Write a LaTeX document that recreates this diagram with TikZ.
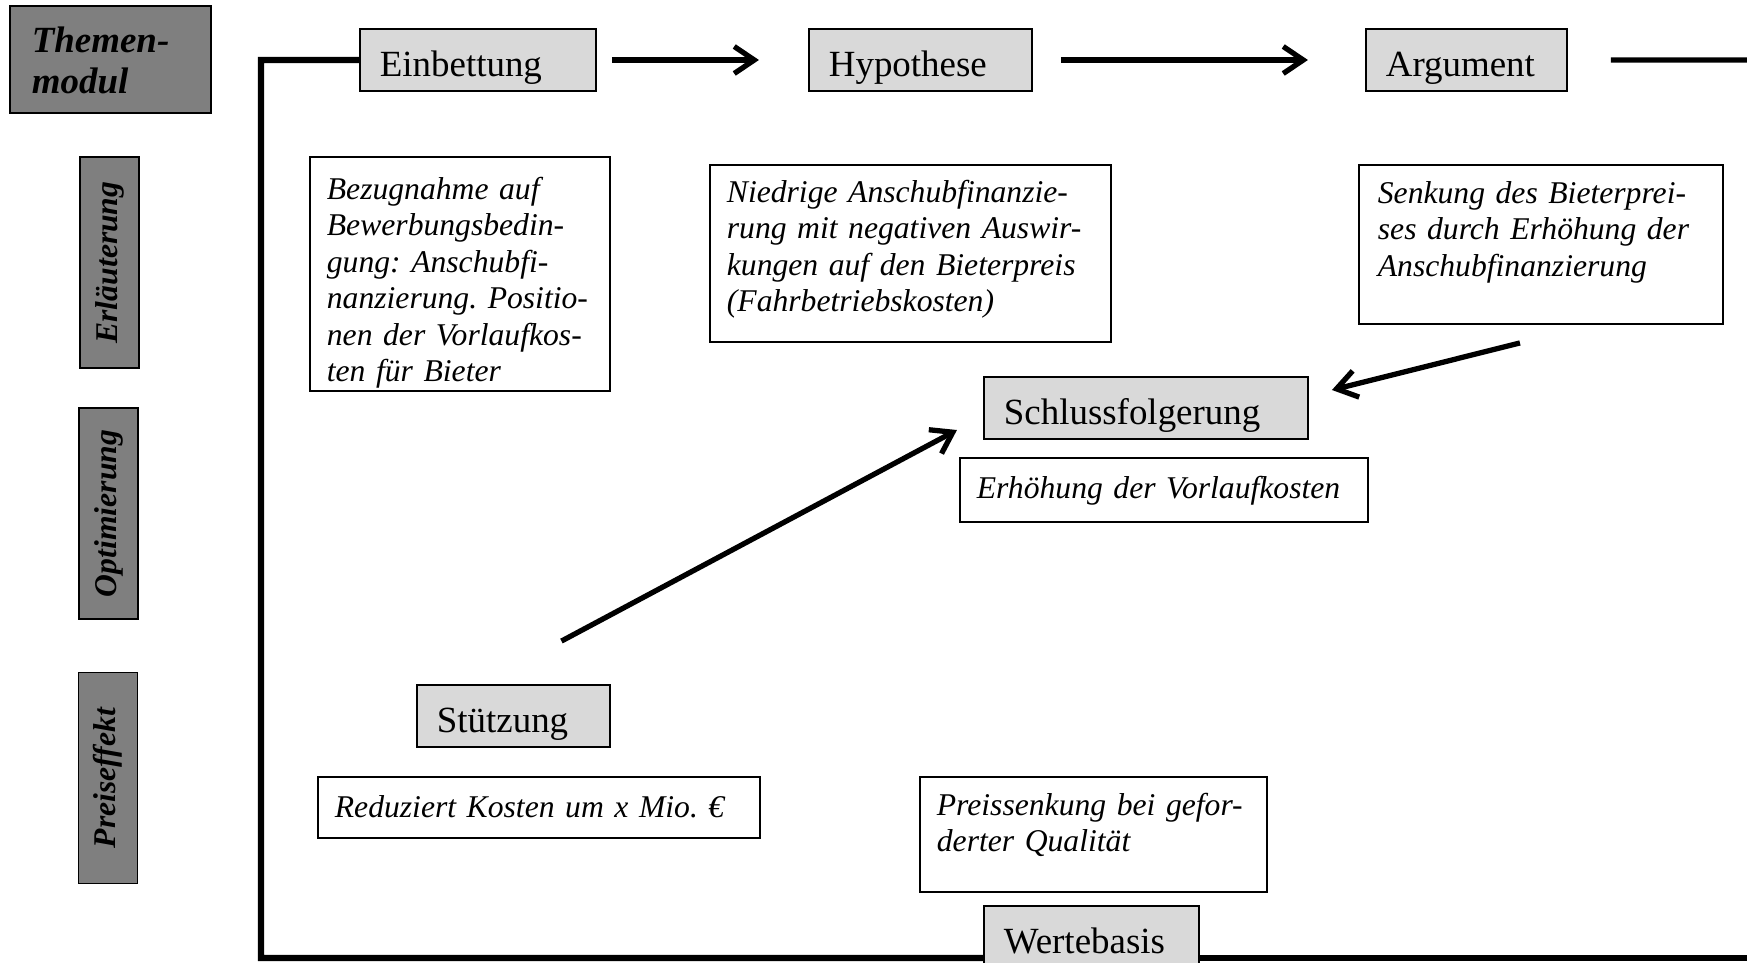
\documentclass[tikz,border=0pt]{standalone}
\usepackage{fontspec}
\setmainfont{Liberation Serif}
\usetikzlibrary{arrows.meta}
\definecolor{dunkelgrau}{RGB}{127,127,127}
\definecolor{hellgrau}{RGB}{217,217,217}

\begin{document}
\begin{tikzpicture}[x=0.01cm, y=-0.01cm,
    schritt/.style={draw, line width=0.5pt, fill=hellgrau, anchor=base west, align=left,
        inner xsep=0.2cm, inner ysep=0pt, text height=0.47cm, text depth=0.15cm,
        font=\fontsize{10.5}{12}\selectfont},
    erkl/.style={draw, line width=0.5pt, fill=white, anchor=base west, align=left,
        inner xsep=0.17cm, inner ysep=0pt, font=\fontsize{9}{10.4}\selectfont\itshape\frenchspacing},
    seite/.style={draw, line width=0.5pt, fill=dunkelgrau, rotate=90, inner sep=0pt,
        minimum width=2.11cm, minimum height=0.59cm,
        font=\fontsize{9}{11}\selectfont\bfseries\itshape},
    pfeil/.style={line width=1.5pt, -{Straight Barb[length=0.2cm,width=0.27cm]}},
    rahmen/.style={line width=1.8pt}]
    \useasboundingbox (0,0) rectangle (1747,963);
    % linke Spalte
    \node[draw, line width=0.5pt, fill=dunkelgrau, anchor=base west, align=left,
        inner xsep=0.22cm, inner ysep=0pt, text width=1.57cm, text height=0.46cm,
        text depth=0.61cm, font=\fontsize{10.5}{11.7}\selectfont\bfseries\itshape]
        (tm) at (9,52) {Themen-\\modul};
    \node[seite] (erl) at (109.5,262.5) {Erläuterung};
    \node[seite] (opt) at (108.5,513.5) {Optimierung};
    \node[seite] (peff) at (108,778) {Preiseffekt};
    % Schritte
    \node[schritt, text width=1.96cm] (einb) at (359,76) {Einbettung};
    \node[schritt, text width=1.83cm] (hyp) at (808,76) {Hypothese};
    \node[schritt, text width=1.61cm] (arg) at (1365,76) {Argument};
    \node[schritt, text width=2.84cm] (schl) at (983,424) {Schlussfolgerung};
    \node[schritt, text width=1.53cm] (stuetz) at (416,732) {Stützung};
    \node[schritt, text width=1.75cm] (wert) at (983,953) {Wertebasis};
    % Erklaerungen
    \node[erkl, text width=2.66cm, text height=0.42cm, text depth=1.92cm] (bez) at (309,199)
        {Bezugnahme auf\\Bewerbungsbedin-\\gung: Anschubfi-\\nanzierung. Positio-\\nen der Vorlaufkos-\\ten für Bieter};
    \node[erkl, text width=3.67cm, text height=0.37cm, text depth=1.40cm] (nied) at (709,202)
        {Niedrige Anschubfinanzie-\\rung mit negativen Auswir-\\kungen auf den Bieterpreis\\(Fahrbetriebskosten)};
    \node[erkl, inner xsep=0.19cm, text width=3.26cm, text height=0.38cm, text depth=1.21cm] (senk) at (1358,203)
        {\makebox[3.26cm][s]{Senkung des Bieterprei-}\\\makebox[3.26cm][s]{ses durch Erhöhung der}\\Anschubfinanzierung};
    \node[erkl, text width=3.74cm, text height=0.40cm, text depth=0.24cm] (erh) at (959,498)
        {Erhöhung der Vorlaufkosten};
    \node[erkl, text width=4.08cm, text height=0.40cm, text depth=0.21cm] (red) at (317,817)
        {Reduziert Kosten um x Mio. €};
    \node[erkl, text width=3.13cm, text height=0.38cm, text depth=0.77cm] (preis) at (919,815)
        {Preissenkung bei gefor-\\derter Qualität};
    % Pfeile
    \draw[pfeil, shorten <=0.15cm, shorten >=0.49cm] (einb) -- (hyp);
    \draw[pfeil, shorten <=0.28cm, shorten >=0.57cm] (hyp) -- (arg);
    \coordinate (rechts) at (1760,60);
    \draw[line width=1.5pt, shorten <=0.43cm] (arg) -- (rechts);
    \draw[pfeil] ([shift={(0.48cm,0.43cm)}]stuetz.north) -- ([shift={(-0.26cm,-0.22cm)}]schl.west);
    \draw[pfeil] ([shift={(-0.21cm,-0.18cm)}]senk.south) -- ([shift={(0.23cm,0.18cm)}]schl.east);
    % Rahmen
    \coordinate (ol) at (261,60);
    \coordinate (ul) at (261,958);
    \coordinate (ur) at (1760,958);
    \draw[rahmen] (einb.west) -- (ol) -- (ul) -- (wert.west |- ul);
    \draw[rahmen] (wert.east |- ul) -- (ur);
\end{tikzpicture}
\end{document}
